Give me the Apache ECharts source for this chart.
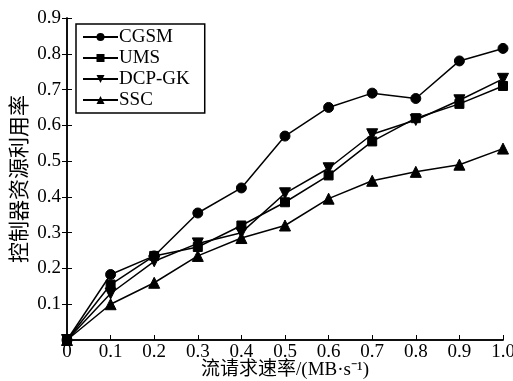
<!DOCTYPE html>
<html><head><meta charset="utf-8">
<script src="https://cdn.jsdelivr.net/npm/echarts@6/dist/echarts.min.js"></script>
<style>html,body{margin:0;padding:0;background:#fff}#c{width:513px;height:381px}</style>
</head><body><div id="c"></div>
<script>
const xValues = [0, 0.1, 0.2, 0.3, 0.4, 0.5, 0.6, 0.7, 0.8, 0.9, 1.0];
const seriesNames = ['CGSM', 'UMS', 'DCP-GK', 'SSC'];
const cgsm = [0, 0.183, 0.235, 0.355, 0.425, 0.57, 0.65, 0.69, 0.675, 0.78, 0.815];
const ums = [0, 0.155, 0.235, 0.26, 0.32, 0.385, 0.46, 0.555, 0.62, 0.66, 0.71];
const dcpgk = [0, 0.13, 0.22, 0.27, 0.30, 0.41, 0.48, 0.575, 0.615, 0.67, 0.73];
const ssc = [0, 0.10, 0.16, 0.235, 0.285, 0.32, 0.395, 0.445, 0.47, 0.49, 0.535];
const xName = '流请求速率/(MB·s⁻¹)';
const yName = '控制器资源利用率';

const serif = '"Liberation Serif", "Times New Roman", serif';
const cjk = '"Liberation Serif", "Noto Sans CJK SC", serif';
const chart = echarts.init(document.getElementById('c'));
const pair = arr => arr.map((v, i) => [xValues[i], v]);
const symbols = ['circle', 'rect', 'triangle', 'triangle'];
const rotates = [0, 0, 180, 0];
const sizes = [10, 9, 11, 11];
const datas = [cgsm, ums, dcpgk, ssc];
const axisLine = {show: true, lineStyle: {color: '#000', width: 1.5}};
chart.setOption({
  animation: false,
  grid: {left: 67, right: 10, top: 18, bottom: 41, containLabel: false, outerBoundsMode: 'none'},
  legend: {
    left: 76, top: 24, orient: 'vertical',
    borderColor: '#000', borderWidth: 1.5, padding: [3, 15, 3, 6],
    itemGap: 1, itemWidth: 35, itemHeight: 10,
    textStyle: {fontFamily: serif, fontSize: 19, color: '#000', padding: [0, 0, 0, -4], lineHeight: 20},
    data: seriesNames
  },
  xAxis: [{
    type: 'value', min: 0, max: 1, interval: 0.1,
    name: xName, nameLocation: 'middle', nameGap: 21, nameMoveOverlap: false,
    nameTextStyle: {fontFamily: cjk, fontSize: 19, color: '#000'},
    axisLine: axisLine,
    axisTick: {show: true, inside: true, length: 5, lineStyle: {color: '#000'}},
    axisLabel: {fontFamily: serif, fontSize: 19, color: '#000', margin: 3,
      formatter: v => v === 0 ? '0' : v.toFixed(1)},
    splitLine: {show: false}
  }, {
    type: 'value', min: 0, max: 1, interval: 0.1, position: 'top',
    axisLine: axisLine, axisTick: {show: false}, axisLabel: {show: false}, splitLine: {show: false}
  }],
  yAxis: [{
    type: 'value', min: 0, max: 0.9, interval: 0.1,
    name: yName, nameLocation: 'middle', nameGap: 36, nameMoveOverlap: false,
    nameTextStyle: {fontFamily: cjk, fontSize: 21, color: '#000'},
    axisLine: axisLine,
    axisTick: {show: true, inside: true, length: 5, lineStyle: {color: '#000'}},
    axisLabel: {fontFamily: serif, fontSize: 19, color: '#000', margin: 6,
      formatter: v => v === 0 ? '' : v.toFixed(1)},
    splitLine: {show: false}
  }, {
    type: 'value', min: 0, max: 0.9, interval: 0.1, position: 'right',
    axisLine: axisLine,
    axisTick: {show: true, inside: true, length: 5, lineStyle: {color: '#000'}},
    axisLabel: {show: false}, splitLine: {show: false}
  }],
  series: seriesNames.map((n, i) => ({
    name: n, type: 'line', data: pair(datas[i]),
    symbol: symbols[i], symbolRotate: rotates[i], symbolSize: sizes[i],
    showAllSymbol: true,
    lineStyle: {color: '#000', width: 1.5},
    itemStyle: {color: '#000', borderColor: '#000'}
  }))
});
</script></body></html>
